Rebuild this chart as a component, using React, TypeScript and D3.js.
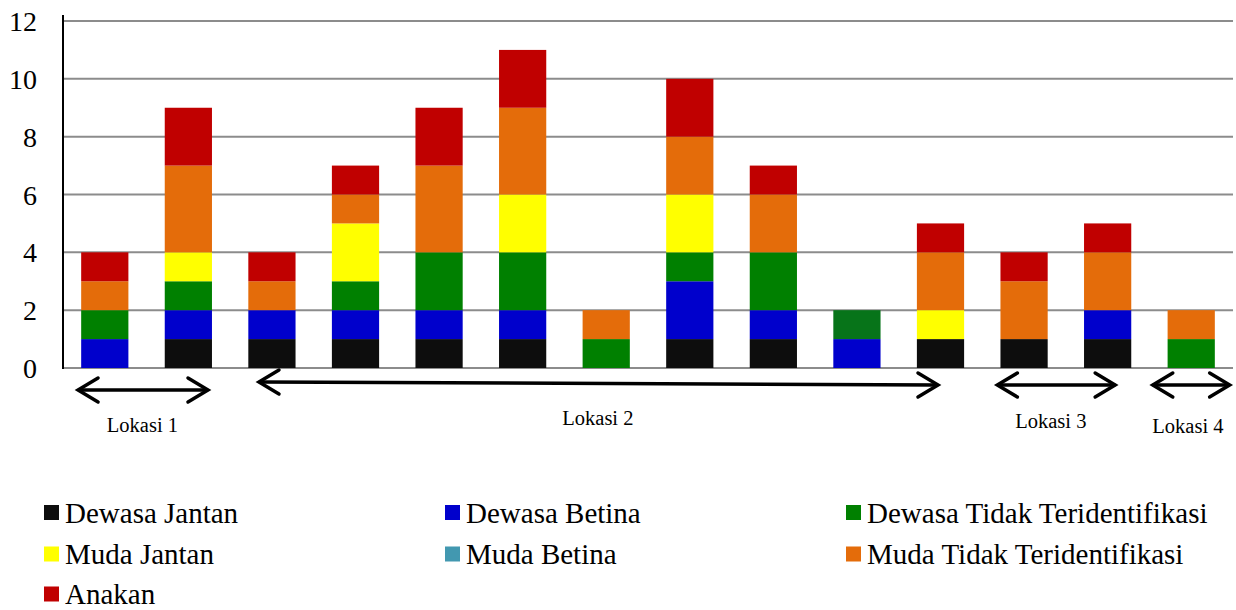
import React from "react";
import * as d3 from "d3";

const categories = ["1","2","3","4","5","6","7","8","9","10","11","12","13","14"];
const dewasaJantan = [0,1,1,1,1,1,0,1,1,0,1,1,1,0];
const dewasaBetina = [1,1,1,1,1,1,0,2,1,1,0,0,1,0];
const dewasaTidak  = [1,1,0,1,2,2,1,1,2,1,0,0,0,1];
const mudaJantan   = [0,1,0,2,0,2,0,2,0,0,1,0,0,0];
const mudaBetina   = [0,0,0,0,0,0,0,0,0,0,0,0,0,0];
const mudaTidak    = [1,3,1,1,3,3,1,2,2,0,2,2,2,1];
const anakan       = [1,2,1,1,2,2,0,2,1,0,1,1,1,0];

const seriesNames = ["Dewasa Jantan","Dewasa Betina","Dewasa Tidak Teridentifikasi","Muda Jantan","Muda Betina","Muda Tidak Teridentifikasi","Anakan"];
const seriesValues = [dewasaJantan, dewasaBetina, dewasaTidak, mudaJantan, mudaBetina, mudaTidak, anakan];
const seriesColors = ["#0d0d0d","#0000cc","#008000","#ffff00","#4298b0","#e46c0a","#c00000"];
// a single cell drawn in a darker green in the original (series index, category index)
const colorOverrides = [{ s: 2, c: 9, color: "#077419" }];

const yTicks = [0,2,4,6,8,10,12];

// location annotations: spans in category-index units
const lokasiLabels = ["Lokasi 1","Lokasi 2","Lokasi 3","Lokasi 4"];
const lokasiStart = [-0.32, 1.845, 10.68, 12.54];
const lokasiEnd = [1.235, 9.97, 12.09, 13.46];
const lokasiLabelPos = [0.45, 5.9, 11.32, 12.96];

const W = 1236, H = 610;
const margin = { left: 63, right: 3, top: 21, bottom: 242 };
const FONT = "Liberation Serif, DejaVu Serif, serif";
const txt = { fontFamily: FONT } as React.CSSProperties;

export default function App() {
  const plotW = W - margin.left - margin.right;
  const y0 = H - margin.bottom; // 368
  const x = d3.scaleBand<string>().domain(categories).range([margin.left, margin.left + plotW]).paddingInner(0.435).paddingOuter(0.2175);
  const y = d3.scaleLinear().domain([0, 12]).range([y0, margin.top]);
  const step = x.step();
  const c0 = x(categories[0])! + x.bandwidth() / 2;
  const idxX = d3.scaleLinear().domain([0, 1]).range([c0, c0 + step]);

  const table = categories.map((c, i) => {
    const row: any = { cat: c };
    seriesNames.forEach((n, s) => (row[n] = seriesValues[s][i]));
    return row;
  });
  const stacked = d3.stack<any>().keys(seriesNames)(table);

  const arrowY = [390, 384, 385, 385];
  const labelY = [432, 425, 428, 433];

  const legendCols = [44, 445, 846];
  const legendRows = [522.5, 564, 604];

  return (
    <svg width={W} height={H} style={{ position: "absolute", left: 0, top: 0, background: "#fff", fontFamily: FONT }}>
      {yTicks.map((t) => (
        <line key={"g" + t} x1={margin.left} x2={W - margin.right} y1={y(t)} y2={y(t)} stroke="#8c8c8c" strokeWidth={2} />
      ))}
      {stacked.map((layer, s) =>
        layer.map((d, i) => {
          if (d[1] - d[0] <= 0) return null;
          const ov = colorOverrides.find((o) => o.s === s && o.c === i);
          return (
            <rect key={s + "-" + i} x={x(categories[i])} width={x.bandwidth()} y={y(d[1])} height={y(d[0]) - y(d[1])}
              fill={ov ? ov.color : seriesColors[s]} />
          );
        })
      )}
      <line x1={margin.left} x2={margin.left} y1={15} y2={y0 + 1} stroke="#000" strokeWidth={2} />
      {yTicks.map((t) => (
        <text key={"t" + t} x={37} y={y(t)} dy="0.36em" textAnchor="end" fontSize={28} fill="#000" style={txt}>{t}</text>
      ))}
      {lokasiLabels.map((l, k) => {
        const xa = idxX(lokasiStart[k]);
        const xb = idxX(lokasiEnd[k]);
        const ya = k === 1 ? arrowY[k] - 2 : arrowY[k];
        const yb = k === 1 ? arrowY[k] + 1 : arrowY[k];
        const hl = 20, hh = 12;
        return (
          <g key={"a" + k} stroke="#000" strokeWidth={3.5} fill="none" strokeLinecap="round" strokeLinejoin="miter">
            <line x1={xa + 1} y1={ya} x2={xb - 1} y2={yb} />
            <polyline points={`${xa + hl},${ya - hh} ${xa},${ya} ${xa + hl},${ya + hh}`} />
            <polyline points={`${xb - hl},${yb - hh} ${xb},${yb} ${xb - hl},${yb + hh}`} />
          </g>
        );
      })}
      {lokasiLabels.map((l, k) => (
        <text key={"l" + k} x={idxX(lokasiLabelPos[k])} y={labelY[k]} textAnchor="middle" fontSize={20.5} fill="#000" style={txt}>{l}</text>
      ))}
      {seriesNames.map((n, s) => {
        const col = s % 3, row = Math.floor(s / 3);
        const lx = legendCols[col], ly = legendRows[row];
        return (
          <g key={"lg" + s}>
            <rect x={lx} y={ly - 17.5} width={15} height={15} fill={seriesColors[s]} />
            <text x={lx + 21} y={ly} fontSize={29} fill="#000" style={txt}>{n}</text>
          </g>
        );
      })}
    </svg>
  );
}
